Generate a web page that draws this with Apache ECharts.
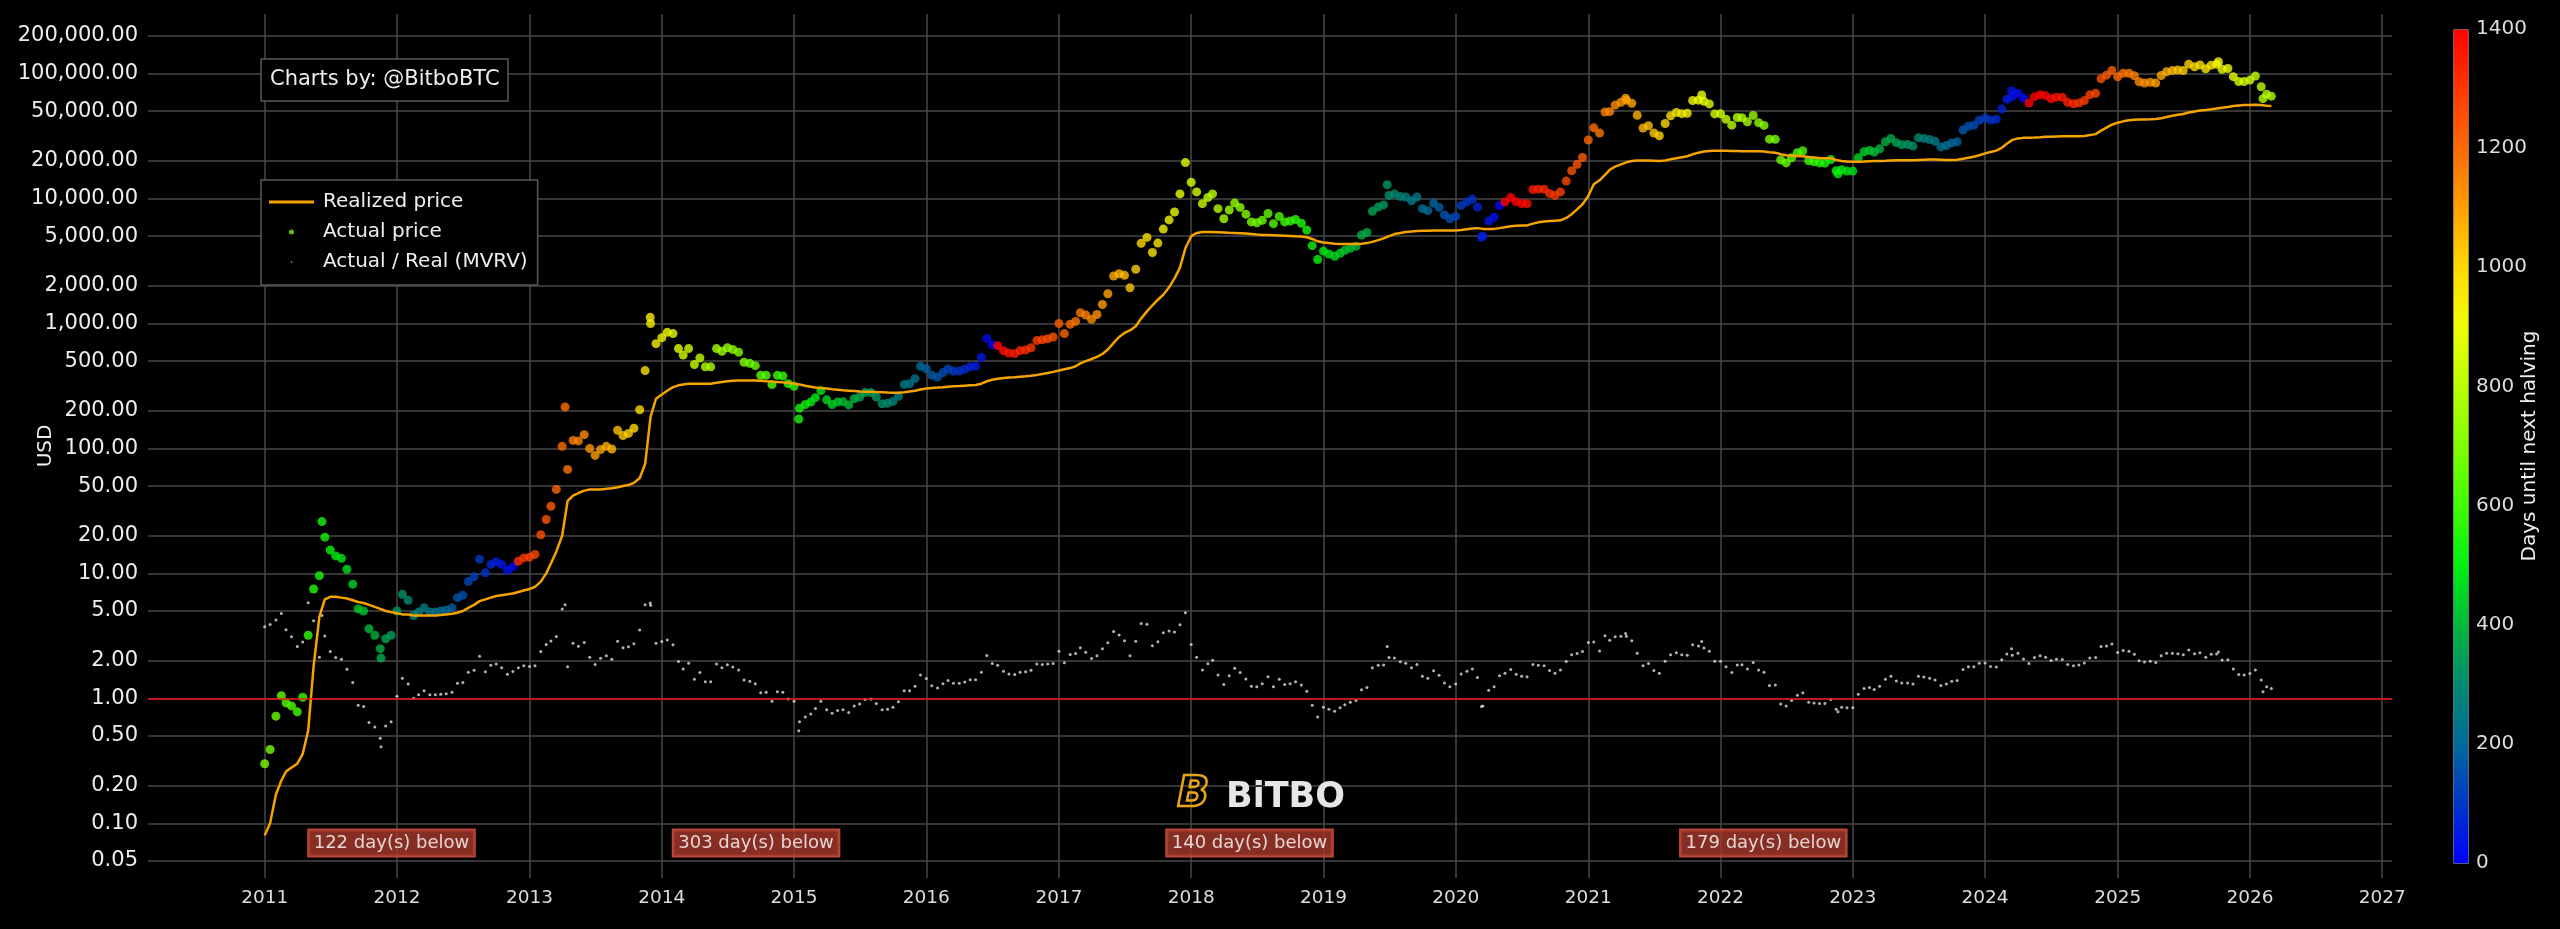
<!DOCTYPE html>
<html>
<head>
<meta charset="utf-8">
<title>BTC realized price / MVRV</title>
<script src="https://cdn.jsdelivr.net/npm/echarts@6/dist/echarts.min.js"></script>
<style>
  html, body { margin: 0; padding: 0; background: #000; }
  #chart { width: 2560px; height: 929px; }
</style>
</head>
<body>
<div id="chart"></div>
<script>
// tick labels
const xYears = [2011, 2012, 2013, 2014, 2015, 2016, 2017, 2018, 2019, 2020, 2021, 2022, 2023, 2024, 2025, 2026, 2027];
const yTicks = [0.05, 0.1, 0.2, 0.5, 1, 2, 5, 10, 20, 50, 100, 200, 500, 1000, 2000, 5000, 10000, 20000, 50000, 100000, 200000];
const halvings = ['2012-11-28', '2016-07-09', '2020-05-11', '2024-04-20', '2028-04-17'];

// samples on the 1st and 16th of each month, Jan 2011 .. Mar 2026
const price = [
  0.30, 0.39, 0.72, 1.05, 0.92, 0.87, 0.78, 1.02, 3.2, 7.5, 9.6, 19.5, 15.4, 13.8, 13.2, 10.8, 8.2, 5.2, 5.0, 3.6, 3.2, 2.5, 3.0, 3.2,
  5.0, 6.8, 6.1, 4.6, 4.9, 5.3, 4.9, 4.9, 5.0, 5.1, 5.3, 6.4, 6.7, 8.6, 9.4, 13.0, 10.1, 11.8, 12.4, 11.8, 10.6, 11.3, 12.5, 13.3,
  13.5, 14.2, 20.4, 27.0, 34.5, 47, 104, 68, 116, 115, 129, 100, 88, 98, 104, 99, 140, 127, 132, 145, 204, 420, 1000, 690,
  770, 850, 830, 630, 560, 630, 470, 530, 450, 450, 630, 600, 640, 620, 590, 490, 480, 460, 385, 385, 325, 385, 380, 330,
  315, 210, 225, 235, 255, 290, 245, 225, 235, 237, 223, 250, 258, 280, 280, 258, 228, 230, 238, 262, 325, 330, 362, 455,
  434, 385, 372, 405, 433, 415, 416, 430, 450, 455, 535, 760, 675, 665, 605, 580, 575, 607, 615, 640, 730, 740, 755, 780,
  1000, 830, 985, 1040, 1220, 1170, 1080, 1180, 1420, 1730, 2400, 2500, 2430, 1930, 2720, 4380, 4890, 3700, 4400, 5700, 6750, 7800, 10900, 19400,
  13500, 11300, 9100, 10200, 10900, 8300, 6900, 8100, 9200, 8500, 7500, 6500, 6400, 6700, 7600, 6300, 7200, 6500, 6600, 6800, 6350, 5600, 4200, 3250,
  3800, 3600, 3450, 3650, 3850, 4000, 4150, 5100, 5350, 7900, 8550, 8900, 10600, 10900, 10400, 10300, 9600, 10300, 8300, 8000, 9200, 8500, 7400, 6900,
  7200, 8800, 9400, 9900, 8550, 5000, 6600, 7100, 8800, 9400, 10200, 9450, 9100, 9100, 11800, 11900, 11900, 11000, 10600, 11300, 13800, 16700, 18800, 21300,
  29400, 36800, 33500, 49200, 49600, 56000, 59000, 61300, 57800, 46400, 36700, 38300, 33500, 31800, 39900, 45900, 48800, 47800, 48200, 60900, 61300, 60100, 57200, 47600,
  47700, 43100, 38700, 44500, 44400, 41100, 46300, 40500, 38500, 29900, 29800, 20400, 19300, 21200, 23300, 24100, 20100, 19700, 19300, 19200, 20500, 16700, 17000, 16600,
  16600, 21200, 23700, 24300, 23600, 25000, 28500, 30300, 28000, 27000, 27100, 26300, 30600, 30300, 29700, 28700, 25900, 26600, 27900, 28500, 35400, 37900, 38700, 42300,
  44200, 42500, 43100, 52000, 62400, 65300, 69600, 63400, 58200, 65200, 67800, 66600, 62900, 64800, 64600, 58900, 57300, 58200, 60800, 67600, 69500, 91000, 97200, 106000,
  94400, 100500, 100600, 96100, 86000, 84000, 85200, 84000, 96500, 103500, 105700, 106800, 105700, 119000, 113300, 117400, 109200, 116800, 118600, 108200, 110000, 94500, 86300, 86500,
  88700, 95500, 78500, 68500, 66000
];

const realized = [
  0.08, 0.10, 0.17, 0.22, 0.26, 0.28, 0.30, 0.36, 0.55, 1.8, 4.5, 6.2, 6.5, 6.5, 6.4, 6.3, 6.1, 5.9, 5.8, 5.6, 5.4, 5.2, 5.0, 4.9,
  4.8, 4.7, 4.7, 4.6, 4.6, 4.6, 4.6, 4.6, 4.65, 4.7, 4.75, 4.85, 5.0, 5.3, 5.6, 6.0, 6.2, 6.4, 6.6, 6.7, 6.8, 6.9, 7.1, 7.3,
  7.5, 7.8, 8.6, 10, 12, 15, 20, 38, 42, 44, 46, 47, 47, 47, 47.5, 48, 49, 50, 51, 53, 58, 75, 180, 250,
  270, 290, 310, 320, 325, 330, 330, 330, 330, 330, 335, 340, 345, 348, 350, 350, 350, 350, 348, 345, 342, 340, 338, 335,
  330, 325, 318, 312, 308, 305, 302, 298, 295, 292, 290, 288, 286, 285, 284, 283, 282, 280, 279, 279, 282, 286, 290, 296,
  302, 305, 307, 309, 312, 314, 316, 318, 320, 322, 330, 345, 355, 362, 367, 370, 372, 375, 378, 382, 388, 395, 402, 410,
  420, 430, 440, 455, 480, 500, 520, 540, 570, 620, 700, 780, 840, 880, 950, 1100, 1250, 1400, 1550, 1700, 1950, 2300, 2800, 4000,
  5000, 5300, 5400, 5400, 5400, 5380, 5350, 5320, 5300, 5280, 5250, 5200, 5150, 5120, 5100, 5080, 5060, 5040, 5020, 5000, 4980, 4900, 4750, 4550,
  4450, 4400, 4350, 4330, 4320, 4320, 4320, 4350, 4400, 4500, 4650, 4800, 5000, 5200, 5300, 5400, 5450, 5500, 5520, 5530, 5550, 5560, 5560, 5550,
  5550, 5600, 5680, 5750, 5800, 5720, 5700, 5720, 5800, 5900, 6000, 6050, 6080, 6100, 6300, 6450, 6550, 6600, 6650, 6700, 7000, 7500, 8200, 9000,
  10500, 13000, 14000, 15500, 17000, 18000, 18800, 19500, 20000, 20200, 20200, 20200, 20100, 20000, 20200, 20600, 21000, 21400, 21800, 22600, 23300, 23800, 24000, 24100,
  24100, 24100, 24000, 24000, 23900, 23900, 23900, 23900, 23800, 23500, 23300, 22600, 22200, 22000, 21900, 21800, 21500, 21300, 21100, 21000, 21000, 20400, 20000, 19800,
  19700, 19700, 19800, 19900, 19950, 20000, 20100, 20200, 20250, 20300, 20300, 20300, 20400, 20450, 20500, 20500, 20450, 20400, 20400, 20450, 20800, 21200, 21600, 22200,
  23000, 23600, 24200, 25500, 27500, 29500, 30300, 30600, 30700, 30800, 31000, 31200, 31300, 31400, 31500, 31500, 31500, 31500, 31700, 32200, 32800, 35000, 37000, 39000,
  40500, 41500, 42300, 42800, 43000, 43000, 43100, 43300, 44000, 45000, 46000, 46800, 47500, 48800, 49800, 50600, 51200, 51800, 52500, 53400, 54000, 55000, 55600, 56000,
  56200, 56400, 56000, 55400, 55000
];

const mvrv = [
  3.75, 3.9, 4.24, 4.77, 3.54, 3.11, 2.6, 2.83, 5.82, 4.17, 2.13, 3.15, 2.37, 2.12, 2.06, 1.71, 1.34, 0.88, 0.86, 0.64, 0.59, 0.48, 0.6, 0.65,
  1.04, 1.45, 1.3, 1.0, 1.07, 1.15, 1.07, 1.07, 1.08, 1.09, 1.12, 1.32, 1.34, 1.62, 1.68, 2.17, 1.63, 1.84, 1.88, 1.76, 1.56, 1.64, 1.76, 1.82,
  1.8, 1.82, 2.37, 2.7, 2.88, 3.13, 5.2, 1.79, 2.76, 2.61, 2.8, 2.13, 1.87, 2.09, 2.19, 2.06, 2.86, 2.54, 2.59, 2.74, 3.52, 5.6, 5.56, 2.76,
  2.85, 2.93, 2.68, 1.97, 1.72, 1.91, 1.42, 1.61, 1.36, 1.36, 1.88, 1.76, 1.86, 1.78, 1.69, 1.4, 1.37, 1.31, 1.11, 1.12, 0.95, 1.13, 1.12, 0.99,
  0.95, 0.65, 0.71, 0.75, 0.83, 0.95, 0.81, 0.76, 0.8, 0.81, 0.77, 0.87, 0.9, 0.98, 0.99, 0.91, 0.81, 0.82, 0.85, 0.94, 1.15, 1.15, 1.25, 1.54,
  1.44, 1.26, 1.21, 1.31, 1.39, 1.32, 1.32, 1.35, 1.41, 1.41, 1.62, 2.2, 1.9, 1.84, 1.65, 1.57, 1.55, 1.62, 1.63, 1.68, 1.88, 1.87, 1.88, 1.9,
  2.38, 1.93, 2.24, 2.29, 2.54, 2.34, 2.08, 2.19, 2.49, 2.79, 3.43, 3.21, 2.89, 2.19, 2.86, 3.98, 3.91, 2.64, 2.84, 3.35, 3.46, 3.39, 3.89, 4.85,
  2.7, 2.13, 1.69, 1.89, 2.02, 1.54, 1.29, 1.52, 1.74, 1.61, 1.43, 1.25, 1.24, 1.31, 1.49, 1.24, 1.42, 1.29, 1.31, 1.36, 1.28, 1.14, 0.88, 0.71,
  0.85, 0.82, 0.79, 0.84, 0.89, 0.93, 0.96, 1.17, 1.22, 1.76, 1.84, 1.85, 2.12, 2.1, 1.96, 1.91, 1.76, 1.87, 1.5, 1.45, 1.66, 1.53, 1.33, 1.24,
  1.3, 1.57, 1.65, 1.72, 1.47, 0.87, 1.16, 1.24, 1.52, 1.59, 1.7, 1.56, 1.5, 1.49, 1.87, 1.84, 1.82, 1.67, 1.59, 1.69, 1.97, 2.23, 2.29, 2.37,
  2.8, 2.83, 2.39, 3.17, 2.92, 3.11, 3.14, 3.14, 2.89, 2.3, 1.82, 1.9, 1.67, 1.59, 1.98, 2.23, 2.32, 2.23, 2.21, 2.69, 2.63, 2.53, 2.38, 1.98,
  1.98, 1.79, 1.61, 1.85, 1.86, 1.72, 1.94, 1.69, 1.62, 1.27, 1.28, 0.9, 0.87, 0.96, 1.06, 1.11, 0.93, 0.92, 0.91, 0.91, 0.98, 0.82, 0.85, 0.84,
  0.84, 1.08, 1.2, 1.22, 1.18, 1.25, 1.42, 1.5, 1.38, 1.33, 1.33, 1.3, 1.5, 1.48, 1.45, 1.4, 1.27, 1.3, 1.37, 1.39, 1.7, 1.79, 1.79, 1.91,
  1.92, 1.8, 1.78, 2.04, 2.27, 2.21, 2.3, 2.07, 1.9, 2.12, 2.19, 2.13, 2.01, 2.06, 2.05, 1.87, 1.82, 1.85, 1.92, 2.1, 2.12, 2.6, 2.63, 2.72,
  2.33, 2.42, 2.38, 2.25, 2.0, 1.95, 1.98, 1.94, 2.19, 2.3, 2.3, 2.28, 2.23, 2.44, 2.28, 2.32, 2.13, 2.25, 2.26, 2.03, 2.04, 1.72, 1.55, 1.54,
  1.58, 1.69, 1.4, 1.24, 1.2
];

// daily extremes between the regular samples
const spikeDates = ['2011-06-08', '2011-11-18', '2013-04-09', '2013-11-30', '2015-01-14', '2019-06-26', '2020-03-12', '2021-04-14', '2021-11-10', '2022-11-21', '2024-03-14', '2025-10-06', '2026-02-06'];
const spikePrice = [26, 2.1, 215, 1120, 172, 12900, 4900, 63500, 67500, 15800, 73000, 124500, 63000];
const spikeMvrv = [4.6, 0.41, 5.6, 5.8, 0.55, 2.6, 0.86, 3.3, 2.85, 0.78, 2.5, 2.35, 1.13];

// "days below 1" annotations
const annotDates = ['2011-12-17', '2014-09-18', '2018-06-11', '2022-04-29'];
const annotText = ['122 day(s) below', '303 day(s) below', '140 day(s) below', '179 day(s) below'];
const annotLevel = 0.0697;

const FONT = 'DejaVu Sans';
const DAY = 864e5;
const toTs = (s) => { const [y, m, d] = s.split('-').map(Number); return new Date(y, m - 1, d).getTime(); };

const dates = [];
for (let y = 2011; dates.length < price.length; y++) {
  for (let m = 0; m < 12 && dates.length < price.length; m++) {
    dates.push(new Date(y, m, 1).getTime());
    if (dates.length < price.length) dates.push(new Date(y, m, 16).getTime());
  }
}

const halvingTs = halvings.map(toTs);
function daysToHalving(t) {
  const h = halvingTs.find((x) => x > t);
  return Math.round((h - t) / DAY);
}

const priceData = dates.map((t, i) => [t, price[i], daysToHalving(t)]);
const spikeData = spikeDates.map((s, i) => { const t = toTs(s); return [t, spikePrice[i], daysToHalving(t)]; });
const realizedData = dates.map((t, i) => [t, realized[i]]);
const mvrvData = dates.map((t, i) => [t, mvrv[i]])
  .concat(spikeDates.map((s, i) => [toTs(s), spikeMvrv[i]]));
const annotData = annotDates.map((s, i) => ({ value: [toTs(s), annotLevel], name: annotText[i] }));

const fmtUsd = (v) => {
  const n = yTicks.reduce((a, b) => (Math.abs(b - v) < Math.abs(a - v) ? b : a));
  return n.toLocaleString('en-US', { minimumFractionDigits: 2, maximumFractionDigits: 2 });
};

const chart = echarts.init(document.getElementById('chart'), null, { renderer: 'canvas' });

chart.setOption({
  backgroundColor: '#000',
  animation: false,
  textStyle: { fontFamily: FONT },
  title: {
    text: 'Charts by: @BitboBTC',
    left: 261, top: 59,
    padding: [9, 9],
    borderColor: '#5a5a5a', borderWidth: 1.5,
    backgroundColor: '#000',
    textStyle: { color: '#eee', fontSize: 21, fontWeight: 'normal', lineHeight: 24, fontFamily: FONT },
  },
  legend: {
    data: [
      { name: 'Realized price', icon: 'path://M0 0H45V3H0Z' },
      { name: 'Actual price', icon: 'circle', itemStyle: { color: '#7cf000' } },
      { name: 'Actual / Real (MVRV)', icon: 'path://M0 0M10 10M3.5 5a1.5 1.5 0 1 0 3 0a1.5 1.5 0 1 0 -3 0Z', itemStyle: { color: '#eee' } },
    ],
    orient: 'vertical',
    left: 261, top: 180,
    padding: [11, 10, 12, 8],
    itemGap: 8,
    itemWidth: 45, itemHeight: 5,
    borderColor: '#5a5a5a', borderWidth: 1.5,
    backgroundColor: '#000',
    selectedMode: false,
    textStyle: { color: '#eee', fontSize: 20, lineHeight: 22, padding: [0, 0, 0, 4], fontFamily: FONT },
  },
  grid: [
    { left: 148, right: 168, top: 14, bottom: 51, outerBoundsMode: 'none', containLabel: false },
    { left: 2453, top: 29, width: 15, height: 834, outerBoundsMode: 'none', containLabel: false },
  ],
  xAxis: [
    {
      type: 'time',
      min: toTs('2010-02-13'), max: toTs('2027-01-28'),
      splitNumber: xYears.length,
      minInterval: 365 * DAY, maxInterval: 366 * DAY,
      axisLine: { show: false },
      axisTick: { show: false },
      axisLabel: {
        formatter: (v) => String(new Date(v).getFullYear()),
        showMinLabel: false, showMaxLabel: false,
        color: '#ddd', fontSize: 18.5, margin: 11, fontFamily: FONT,
      },
      splitLine: { show: true, showMinLine: false, showMaxLine: false, lineStyle: { color: '#474747', width: 1.5 } },
    },
    { gridIndex: 1, type: 'value', show: false, min: 0, max: 1 },
  ],
  yAxis: [
    {
      type: 'log', logBase: 10,
      min: 0.0365, max: 300000,
      name: 'USD', nameLocation: 'middle', nameGap: 92, nameMoveOverlap: false,
      nameTextStyle: { color: '#eee', fontSize: 20, fontFamily: FONT },
      axisLine: { show: false },
      axisTick: { show: false, customValues: yTicks },
      axisLabel: { customValues: yTicks, formatter: fmtUsd, color: '#eee', fontSize: 21, margin: 10, fontFamily: FONT },
      splitLine: { show: true, lineStyle: { color: '#474747', width: 1.5 } },
    },
    {
      gridIndex: 1, type: 'value', position: 'right',
      min: 0, max: 1400, interval: 200,
      name: 'Days until next halving', nameLocation: 'middle', nameRotate: 90, nameGap: 52, nameMoveOverlap: false,
      nameTextStyle: { color: '#eee', fontSize: 20, fontFamily: FONT },
      axisLine: { show: false }, axisTick: { show: false }, splitLine: { show: false },
      axisLabel: { formatter: (v) => String(v), color: '#ddd', fontSize: 20, margin: 8, fontFamily: FONT },
    },
  ],
  visualMap: {
    type: 'continuous',
    min: 0, max: 1400,
    dimension: 2,
    seriesIndex: [1, 2],
    calculable: false,
    orient: 'vertical',
    left: 2453, top: 29,
    itemWidth: 15, itemHeight: 834,
    padding: 0,
    borderColor: '#555', borderWidth: 1,
    inRange: {
      color: ['#0000ff', '#0036c8', '#006a9a', '#008a70', '#00b83c', '#00f010', '#40ff00', '#80ff00',
        '#b8ff00', '#f0ff00', '#ffd800', '#ffa000', '#ff6a00', '#ff3800', '#ff0000'],
    },
  },
  series: [
    {
      name: 'Actual / Real (MVRV)',
      type: 'scatter',
      data: mvrvData,
      symbolSize: 3,
      itemStyle: { color: '#e0e0e0' },
      z: 2,
      silent: true,
      markLine: {
        silent: true, symbol: 'none', label: { show: false },
        lineStyle: { color: '#f01010', width: 1.5, type: 'solid' },
        data: [{ yAxis: 1 }],
      },
    },
    {
      name: 'Actual price',
      type: 'scatter',
      data: priceData,
      symbolSize: 9,
      itemStyle: { color: '#7cf000' },
      z: 3,
      silent: true,
    },
    {
      name: 'Actual price',
      type: 'scatter',
      data: spikeData,
      symbolSize: 9,
      itemStyle: { color: '#7cf000' },
      z: 3,
      silent: true,
    },
    {
      name: 'Realized price',
      type: 'line',
      data: realizedData,
      showSymbol: false,
      symbol: 'none',
      lineStyle: { color: '#f5a300', width: 2.5 },
      itemStyle: { color: '#f5a300' },
      z: 4,
      silent: true,
    },
    {
      name: 'annotations',
      type: 'scatter',
      data: annotData,
      symbolSize: 1,
      itemStyle: { color: 'rgba(0,0,0,0)' },
      z: 5,
      silent: true,
      label: {
        show: true, position: 'inside',
        formatter: (p) => p.name,
        color: '#fff', fontSize: 18, fontFamily: FONT,
        backgroundColor: '#a83a2c', borderColor: '#e8584a', borderWidth: 1.5,
        padding: [5, 5, 3, 5],
      },
    },
  ],
  graphic: [
    {
      type: 'text', left: 1176, top: 773, z: 10, silent: true,
      style: { text: 'B', fill: 'none', stroke: '#e8a317', lineWidth: 2.5, font: 'italic bold 42px DejaVu Sans' },
    },
    {
      type: 'text', left: 1226, top: 780, z: 10, silent: true,
      style: { text: 'BiTBO', fill: '#e6e6e6', font: 'bold 35px DejaVu Sans' },
    },
  ],
});
</script>
</body>
</html>
